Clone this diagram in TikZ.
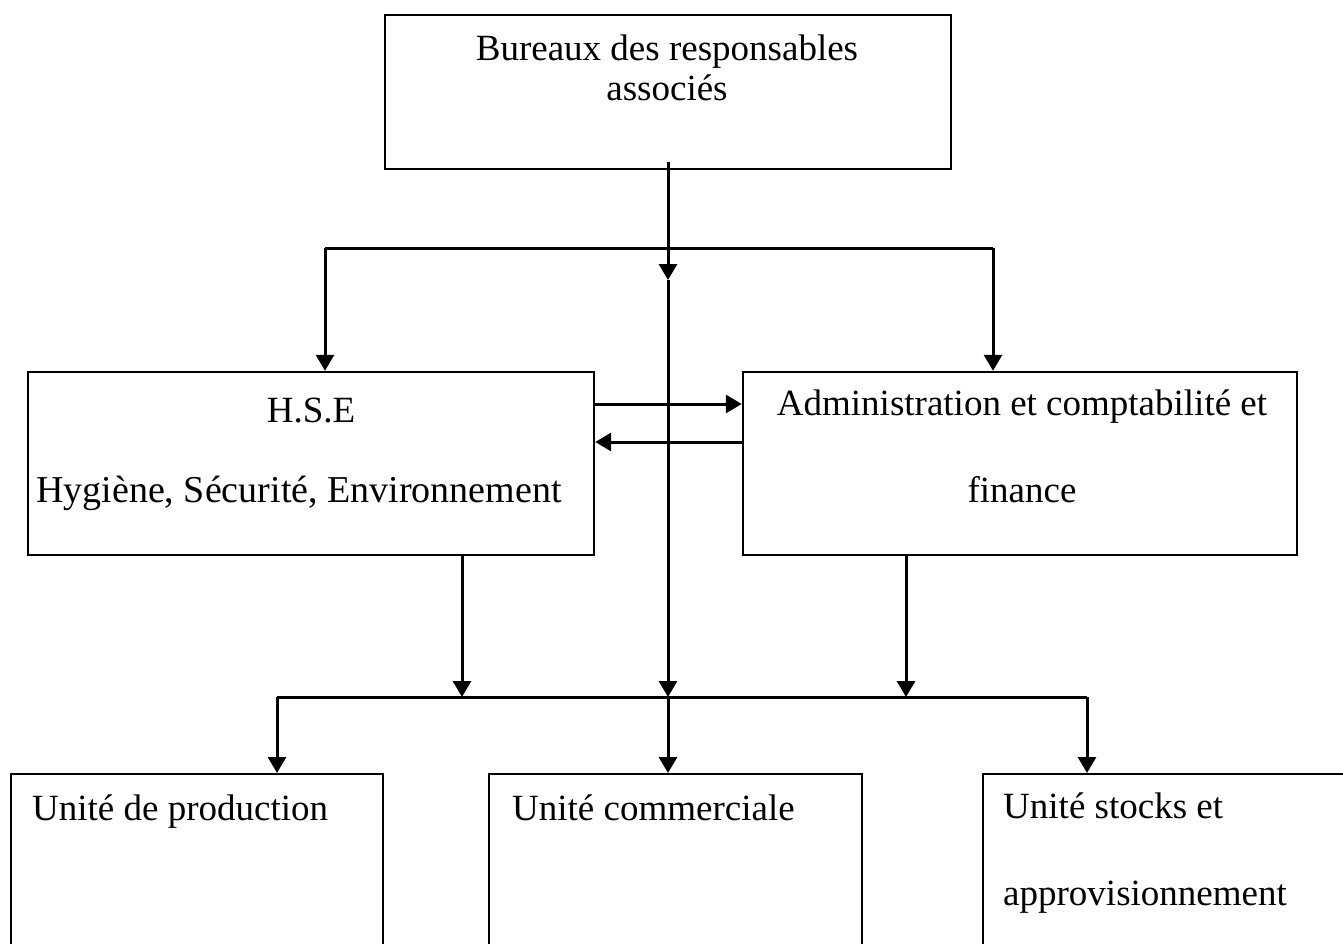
\documentclass[tikz,border=0pt]{standalone}
\usepackage{fontspec}
\setmainfont{Liberation Serif}
\usetikzlibrary{shapes,arrows,arrows.meta,calc}
\tikzstyle{block} = [rectangle, draw, line width=2.4pt, inner sep=0pt, minimum height=183pt]
\tikzstyle{unit} = [rectangle, draw, line width=2.4pt, inner sep=0pt, minimum height=220pt, anchor=north west]
\tikzstyle{txt} = [inner sep=0pt, anchor=base, font=\fontsize{37}{44}\selectfont]
\tikzstyle{line} = [draw, line width=3pt, -{Triangle[width=18pt,length=16pt]}]

\begin{document}
\begin{tikzpicture}[x=1pt, y=-1pt]
		\useasboundingbox (0,0) rectangle (1343,944);

		\node [block, minimum width=566pt, minimum height=154pt] (bureaux) at (668,92) {};
		\node [block, minimum width=566pt] (hse) at (311,463.5) {};
		\node [block, minimum width=554pt] (admin) at (1020,463.5) {};
		\node [unit, minimum width=372pt] (prod) at (10,773) {};
		\node [unit, minimum width=373pt] (commerce) at (488,773) {};
		\node [unit, minimum width=400pt] (stocks) at (982,773) {};

		\node [txt] (bureaux1) at (667,61) {Bureaux des responsables};
		\node [txt] (bureaux2) at (667,101) {associés};
		\node [txt] (hse1) at (311,422) {H.S.E};
		\node [txt, font=\fontsize{38}{44}\selectfont] (hse2) at (299,502) {Hygiène, Sécurité, Environnement};
		\node [txt] (admin1) at (1022,415) {Administration et comptabilité et};
		\node [txt] (admin2) at (1022,502) {finance};
		\node [txt, anchor=base west] (prod1) at (32,820) {Unité de production};
		\node [txt, anchor=base west] (commerce1) at (512,820) {Unité commerciale};
		\node [txt, anchor=base west] (stocks1) at (1003,818) {Unité stocks et};
		\node [txt, anchor=base west] (stocks2) at (1003,905) {approvisionnement};

		\coordinate (top) at (668,162);
		\coordinate (split) at (668,248);
		\coordinate (splitL) at (325,248);
		\coordinate (splitR) at (993,248);
		\coordinate (mid) at (668,280);
		\coordinate (join) at (668,697);
		\coordinate (joinH) at (462,697);
		\coordinate (joinA) at (906,697);
		\coordinate (joinL) at (277,697);
		\coordinate (joinR) at (1087,697);

		\draw [line width=3pt] (top) -- (split);
		\draw [line width=3pt] (splitL) -- (splitR);
		\path [line] (splitL) -- (splitL |- hse.north);
		\path [line] (splitR) -- (splitR |- admin.north);
		\path [line] (split) -- (mid);
		\path [line] (mid) -- (join);
		\path [line] ($(hse.east)+(0,-59.5)$) -- ($(admin.west)+(0,-59.5)$);
		\path [line] ($(admin.west)+(0,-21.5)$) -- ($(hse.east)+(0,-21.5)$);
		\path [line] (joinH |- hse.south) -- (joinH);
		\path [line] (joinA |- admin.south) -- (joinA);
		\draw [line width=3pt] (joinL) -- (joinR);
		\path [line] (joinL) -- (joinL |- prod.north);
		\path [line] (join) -- (join |- commerce.north);
		\path [line] (joinR) -- (joinR |- stocks.north);
	\end{tikzpicture}
\end{document}
